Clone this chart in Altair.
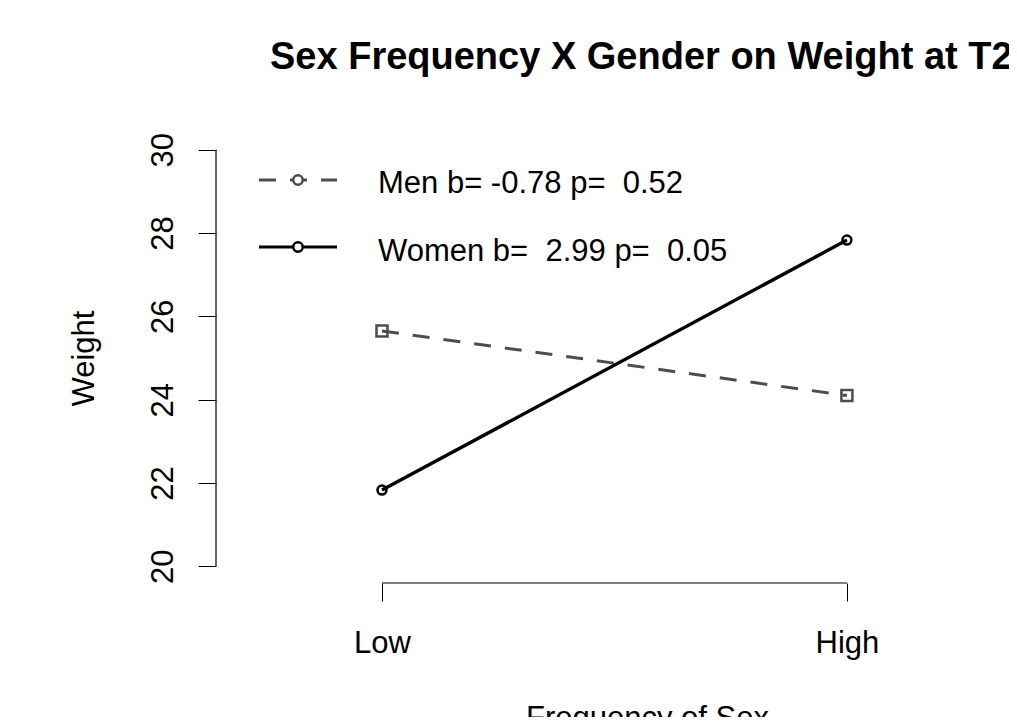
import altair as alt
import pandas as pd

# ---- data ----
levels = ["Low", "High"]
level_pos = [1, 2]
men_weight = [25.65, 24.10]
women_weight = [21.83, 27.83]
legend_labels = ["Men b= -0.78 p=  0.52", "Women b=  2.99 p=  0.05"]
y_ticks = [20, 22, 24, 26, 28, 30]
title_text = "Sex Frequency X Gender on Weight at T2"
x_title = "Frequency of Sex"
y_title = "Weight"

FONT = "Liberation Sans"
GRAY = "#4D4D4D"
W, H = 789, 450

men_df = pd.DataFrame({"pos": level_pos, "weight": men_weight, "level": levels})
women_df = pd.DataFrame({"pos": level_pos, "weight": women_weight, "level": levels})

label_expr = " : ".join(
    [f"datum.value == {p} ? '{l}'" for p, l in zip(level_pos, levels)]
) + " : ''"

x_enc = alt.X(
    "pos:Q",
    scale=alt.Scale(domain=[0.643, 2.340], nice=False, zero=False),
    axis=alt.Axis(
        values=level_pos, labelExpr=label_expr, title=x_title,
        domain=False, grid=False, tickSize=18, tickColor="black", tickWidth=1,
        labelFont=FONT, labelFontSize=31, labelColor="black",
        labelBaseline="alphabetic", labelPadding=51, labelAlign="center",
        titleFont=FONT, titleFontSize=31, titleFontWeight="normal", titleColor="black",
        titleX=431, titleY=144, titleAlign="center", titleBaseline="alphabetic",
    ),
)
y_enc = alt.Y(
    "weight:Q",
    scale=alt.Scale(domain=[19.6, 30.4], nice=False, zero=False),
    axis=alt.Axis(
        values=y_ticks, title=y_title, format="d",
        domain=False, grid=False, tickSize=18, tickColor="black", tickWidth=1,
        labelFont=FONT, labelFontSize=31, labelColor="black",
        labelAngle=270, labelAlign="center", labelBaseline="alphabetic", labelPadding=26,
        titleFont=FONT, titleFontSize=31, titleFontWeight="normal", titleColor="black",
        titleAngle=270, titleX=-123, titleY=225, titleAlign="center", titleBaseline="alphabetic",
    ),
)

men_line = alt.Chart(men_df).mark_line(color=GRAY, strokeWidth=3, strokeDash=[17, 14]).encode(x=x_enc, y=y_enc)
men_pts = alt.Chart(men_df).mark_point(shape="square", filled=False, size=121, strokeWidth=2.5,
                                       color=GRAY, opacity=1).encode(x="pos:Q", y="weight:Q")
women_line = alt.Chart(women_df).mark_line(color="black", strokeWidth=3.4).encode(x="pos:Q", y="weight:Q")
women_pts = alt.Chart(women_df).mark_point(shape="circle", filled=False, size=80, strokeWidth=2.5,
                                           color="black", opacity=1).encode(x="pos:Q", y="weight:Q")

# axis lines spanning only the labelled range (R style)
y_axis_line = alt.Chart(pd.DataFrame({"a": [0]})).mark_rule(color="black", strokeWidth=1.2).encode(
    x=alt.value(0), y=alt.datum(y_ticks[0]), y2=alt.datum(y_ticks[-1]))
x_axis_line = alt.Chart(pd.DataFrame({"a": [0]})).mark_rule(color="black", strokeWidth=1.2).encode(
    y=alt.value(H), x=alt.datum(level_pos[0]), x2=alt.datum(level_pos[-1]))

# hand-built legend (line + marker + label)
leg_rows = [
    dict(label=legend_labels[0], color=GRAY, dash=[17, 14], ly=47, ty=60),
    dict(label=legend_labels[1], color="black", dash=[1, 0], ly=114, ty=128),
]
legend_layers = []
for r in leg_rows:
    shown = r["label"].replace("  ", " \u00a0")  # keep the double spaces visible
    d = pd.DataFrame({"label": [shown]})
    base = alt.Chart(d)
    legend_layers.append(base.mark_rule(color=r["color"], strokeWidth=3, strokeDash=r["dash"]).encode(
        x=alt.value(43), x2=alt.value(121), y=alt.value(r["ly"])))
    legend_layers.append(base.mark_point(shape="circle", filled=True, size=90, strokeWidth=2.5,
                                         color=r["color"], fill="white", stroke=r["color"], opacity=1).encode(
        x=alt.value(82), y=alt.value(r["ly"])))
    legend_layers.append(base.mark_text(align="left", baseline="alphabetic", font=FONT, fontSize=31,
                                        color="black").encode(
        x=alt.value(162), y=alt.value(r["ty"]), text="label:N"))

chart = alt.layer(
    men_line, women_line, men_pts, women_pts, y_axis_line, x_axis_line, *legend_layers
).properties(
    width=W, height=H,
    title=alt.TitleParams(title_text, anchor="start", frame="group", dx=54, offset=25,
                          baseline="alphabetic", font=FONT, fontSize=38, fontWeight="bold",
                          color="black"),
    autosize=alt.AutoSizeParams(type="none"),
    padding={"left": 208, "top": 125, "right": 4, "bottom": 134},
    background="white",
).configure_view(stroke="transparent", strokeWidth=0)

chart.save("out.html", embed_options={"renderer": "svg", "actions": False})
